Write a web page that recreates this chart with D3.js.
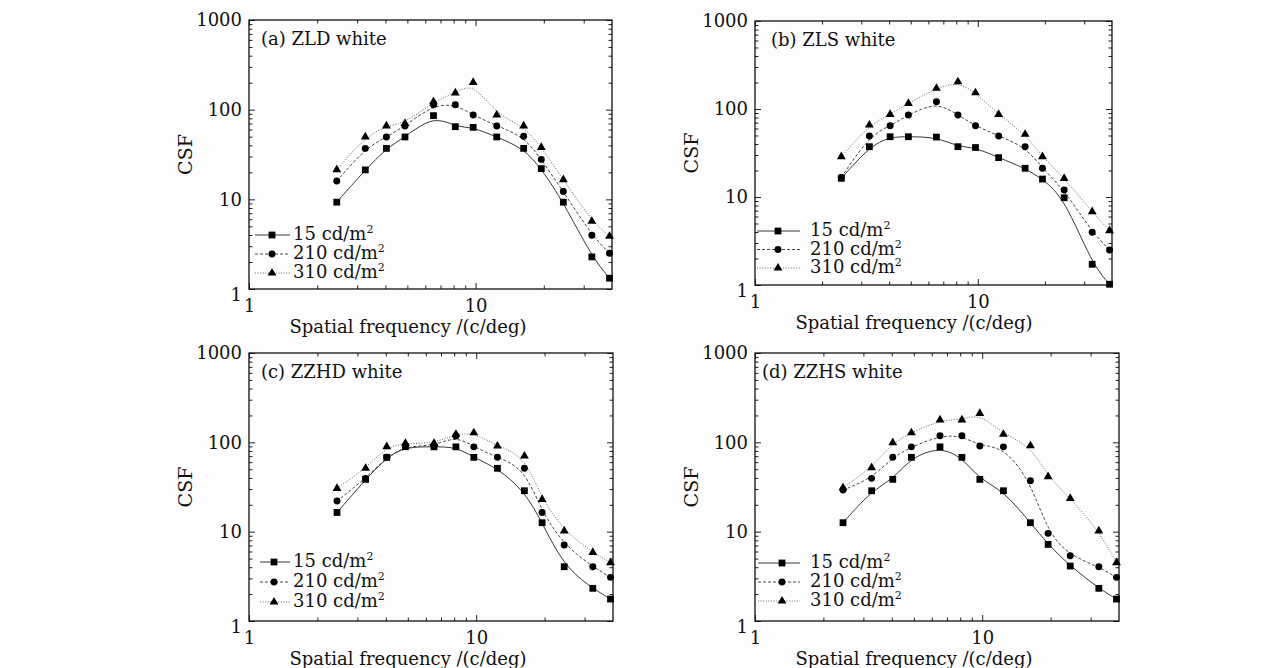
<!DOCTYPE html>
<html lang="en">
<head>
<meta charset="UTF-8">
<title>CSF curves</title>
<script src="https://cdn.jsdelivr.net/npm/d3@7"></script>
<style>
    body{
        margin: 0;
        background: #fdfdfd;
    }
    svg text{
        font-family: 'DejaVu Serif', serif;
        fill: #111;
    }
    .tick line{
        stroke: #222;
        stroke-width: 1;
    }
</style>
</head>
<body>
<div id="chart"></div>
<script>
    // spatial frequencies (c/deg), shared by all panels
    const freq = [2.44, 3.26, 4.04, 4.88, 6.52, 8.14, 9.76, 12.4, 16.3, 19.5, 24.4, 32.6, 39.0];

    const luminances = ["15", "210", "310"];
    const panelTitles = ["(a) ZLD white", "(b) ZLS white", "(c) ZZHD white", "(d) ZZHS white"];

    const zld15  = [9.3, 21.3, 37, 49.6, 85.8, 64.6, 63.5, 49.6, 37, 22, 9.3, 2.28, 1.32];
    const zld210 = [16, 37, 49.6, 65.8, 113.7, 113.7, 87.3, 65.8, 50.4, 27.9, 12.2, 3.97, 2.5];
    const zld310 = [21.4, 49.6, 65.8, 70.4, 122.8, 153.5, 201, 87.3, 65.8, 38, 16.6, 5.69, 3.87];

    const zls15  = [16.3, 37.3, 48.4, 48.4, 48, 37.3, 36.5, 28, 21.2, 16, 9.8, 1.72, 1.02];
    const zls210 = [16.8, 49.3, 64.6, 85.5, 121, 85.5, 64.6, 49.3, 37.3, 21.2, 12, 3.97, 2.5];
    const zls310 = [28.7, 65.8, 87, 116, 172, 204, 153, 87, 51.6, 28.7, 16.3, 6.8, 4.14];

    const zzhd15  = [16.4, 38.5, 67.9, 89.3, 89, 89, 67.9, 51.2, 28.7, 12.6, 4.05, 2.32, 1.76];
    const zzhd210 = [22, 39.5, 67.9, 91, 91, 118, 89, 67.9, 51.2, 16.4, 7.08, 4.05, 3.08];
    const zzhd310 = [30.5, 51.2, 89.3, 97.5, 97.5, 123, 128, 91, 70.3, 23, 10.2, 5.86, 4.49];

    const zzhs15  = [12.6, 28.7, 38.5, 67.9, 89, 67.9, 38.5, 28.7, 12.6, 7.2, 4.12, 2.32, 1.76];
    const zzhs210 = [29.2, 39.5, 67.9, 89, 118.6, 118.6, 91, 89, 37.1, 9.57, 5.37, 4.05, 3.08];
    const zzhs310 = [31, 52, 99, 128, 178, 178, 211, 123, 91.6, 41.2, 23.6, 10.2, 4.49];

    const yMajor = [1, 10, 100, 1000];
    const xMajor = [1, 10];

    const w = 1283;
    const h = 668;

    // frame of each panel and where its legend sits
    const panels = [
        {title: panelTitles[0], series: [zld15, zld210, zld310],
         l: 249, r: 612, t: 20, b: 289, tdx: 12,
         leg: {x0: 255, x1: 290, mx: 272, tx: 293, y: 235, dy: 19}},
        {title: panelTitles[1], series: [zls15, zls210, zls310],
         l: 755, r: 1112, t: 21, b: 285, tdx: 16,
         leg: {x0: 757, x1: 800, mx: 778, tx: 810, y: 231, dy: 18.5}},
        {title: panelTitles[2], series: [zzhd15, zzhd210, zzhd310],
         l: 249, r: 613, t: 353, b: 621, tdx: 12,
         leg: {x0: 260, x1: 290, mx: 274, tx: 293, y: 562, dy: 20}},
        {title: panelTitles[3], series: [zzhs15, zzhs210, zzhs310],
         l: 755, r: 1119, t: 353, b: 621, tdx: 7,
         leg: {x0: 758, x1: 800, mx: 782, tx: 810, y: 563, dy: 19}}
    ];

    const styles = [
        {dash: null, color: "#222", symbol: d3.symbolSquare, size: 46},
        {dash: "3,2", color: "#333", symbol: d3.symbolCircle, size: 38},
        {dash: "1,1.6", color: "#555", symbol: d3.symbolTriangle, size: 34}
    ];

    const minorTicks = (lo, hi) => {
        const out = [];
        for(let dec = lo; dec < hi; dec *= 10){
            for(let k = 2; k < 10; k++){
                if(dec * k < hi) out.push(dec * k);
            }
        }
        return out;
    };

    const svg = d3.select("#chart")
                .append("svg")
                .attr("width", w)
                .attr("height", h);

    panels.forEach((p, pi) => {
        const x = d3.scaleLog().domain([1, 40]).range([p.l, p.r]);
        const y = d3.scaleLog().domain([1, 1000]).range([p.b, p.t]);
        const g = svg.append("g");

        g.append("clipPath").attr("id", "clip" + pi)
            .append("rect")
            .attr("x", p.l).attr("y", p.t)
            .attr("width", p.r - p.l).attr("height", p.b - p.t);

        // axes, ticks pointing inwards on all four sides
        const xMinor = minorTicks(1, 40);
        const yMinor = minorTicks(1, 1000);

        const addAxis = (axis, tx, ty) => {
            const a = g.append("g")
                .attr("transform", "translate(" + tx + "," + ty + ")")
                .call(axis);
            a.select(".domain").remove();
            a.selectAll("text").style("font-size", "18px").style("font-family", "'DejaVu Serif', serif");
            return a;
        };

        addAxis(d3.axisBottom(x).tickValues(xMajor).tickSize(-6).tickPadding(10).tickFormat(d3.format("d")), 0, p.b);
        addAxis(d3.axisBottom(x).tickValues(xMinor).tickSize(-3.5).tickFormat(""), 0, p.b);
        addAxis(d3.axisTop(x).tickValues(xMajor).tickSize(-6).tickFormat(""), 0, p.t);
        addAxis(d3.axisTop(x).tickValues(xMinor).tickSize(-3.5).tickFormat(""), 0, p.t);

        const yl = addAxis(d3.axisLeft(y).tickValues(yMajor).tickSize(-6).tickPadding(7).tickFormat(d3.format("d")), p.l, 0);
        yl.selectAll("text").filter(d => d === 1).attr("dy", "0.62em");
        addAxis(d3.axisLeft(y).tickValues(yMinor).tickSize(-3.5).tickFormat(""), p.l, 0);
        addAxis(d3.axisRight(y).tickValues(yMajor).tickSize(-6).tickFormat(""), p.r, 0);
        addAxis(d3.axisRight(y).tickValues(yMinor).tickSize(-3.5).tickFormat(""), p.r, 0);

        g.append("rect")
            .attr("x", p.l).attr("y", p.t)
            .attr("width", p.r - p.l).attr("height", p.b - p.t)
            .attr("fill", "none")
            .attr("stroke", "#111")
            .attr("stroke-width", 1.3);

        // axis titles
        g.append("text")
            .attr("x", p.l + 159)
            .attr("y", p.b + 44)
            .attr("text-anchor", "middle")
            .style("font-size", "18px")
            .text("Spatial frequency /(c/deg)");

        g.append("text")
            .attr("transform", "translate(" + (p.l - 57) + "," + ((p.t + p.b) / 2) + ") rotate(-90)")
            .attr("text-anchor", "middle")
            .style("font-size", "19px")
            .text("CSF");

        g.append("text")
            .attr("x", p.l + p.tdx)
            .attr("y", p.t + 25)
            .style("font-size", "18px")
            .text(p.title);

        // curves: B-spline through the measured points
        const line = d3.line()
            .x((d, i) => x(freq[i]))
            .y(d => y(d))
            .curve(d3.curveBasis);

        p.series.forEach((s, si) => {
            const st = styles[si];
            g.append("path")
                .attr("d", line(s))
                .attr("clip-path", "url(#clip" + pi + ")")
                .attr("fill", "none")
                .attr("stroke", st.color)
                .attr("stroke-width", 0.9)
                .attr("stroke-dasharray", st.dash);

            g.selectAll(".m" + si)
                .data(s)
                .enter()
                .append("path")
                .attr("class", "m" + si)
                .attr("transform", (d, i) => "translate(" + x(freq[i]) + "," + y(d) + ")")
                .attr("d", d3.symbol().type(st.symbol).size(st.size))
                .attr("fill", "#000");
        });

        // legend
        luminances.forEach((lum, si) => {
            const st = styles[si];
            const ly = p.leg.y + si * p.leg.dy;
            g.append("line")
                .attr("x1", p.leg.x0).attr("x2", p.leg.x1)
                .attr("y1", ly).attr("y2", ly)
                .attr("stroke", st.color)
                .attr("stroke-width", 0.9)
                .attr("stroke-dasharray", st.dash);
            g.append("path")
                .attr("transform", "translate(" + p.leg.mx + "," + ly + ")")
                .attr("d", d3.symbol().type(st.symbol).size(st.size))
                .attr("fill", "#000");
            const t = g.append("text")
                .attr("x", p.leg.tx)
                .attr("y", ly + 5)
                .style("font-size", "18px")
                .text(lum + " cd/m");
            t.append("tspan")
                .attr("dy", -7)
                .style("font-size", "11px")
                .text("2");
        });
    });
</script>
</body>
</html>
